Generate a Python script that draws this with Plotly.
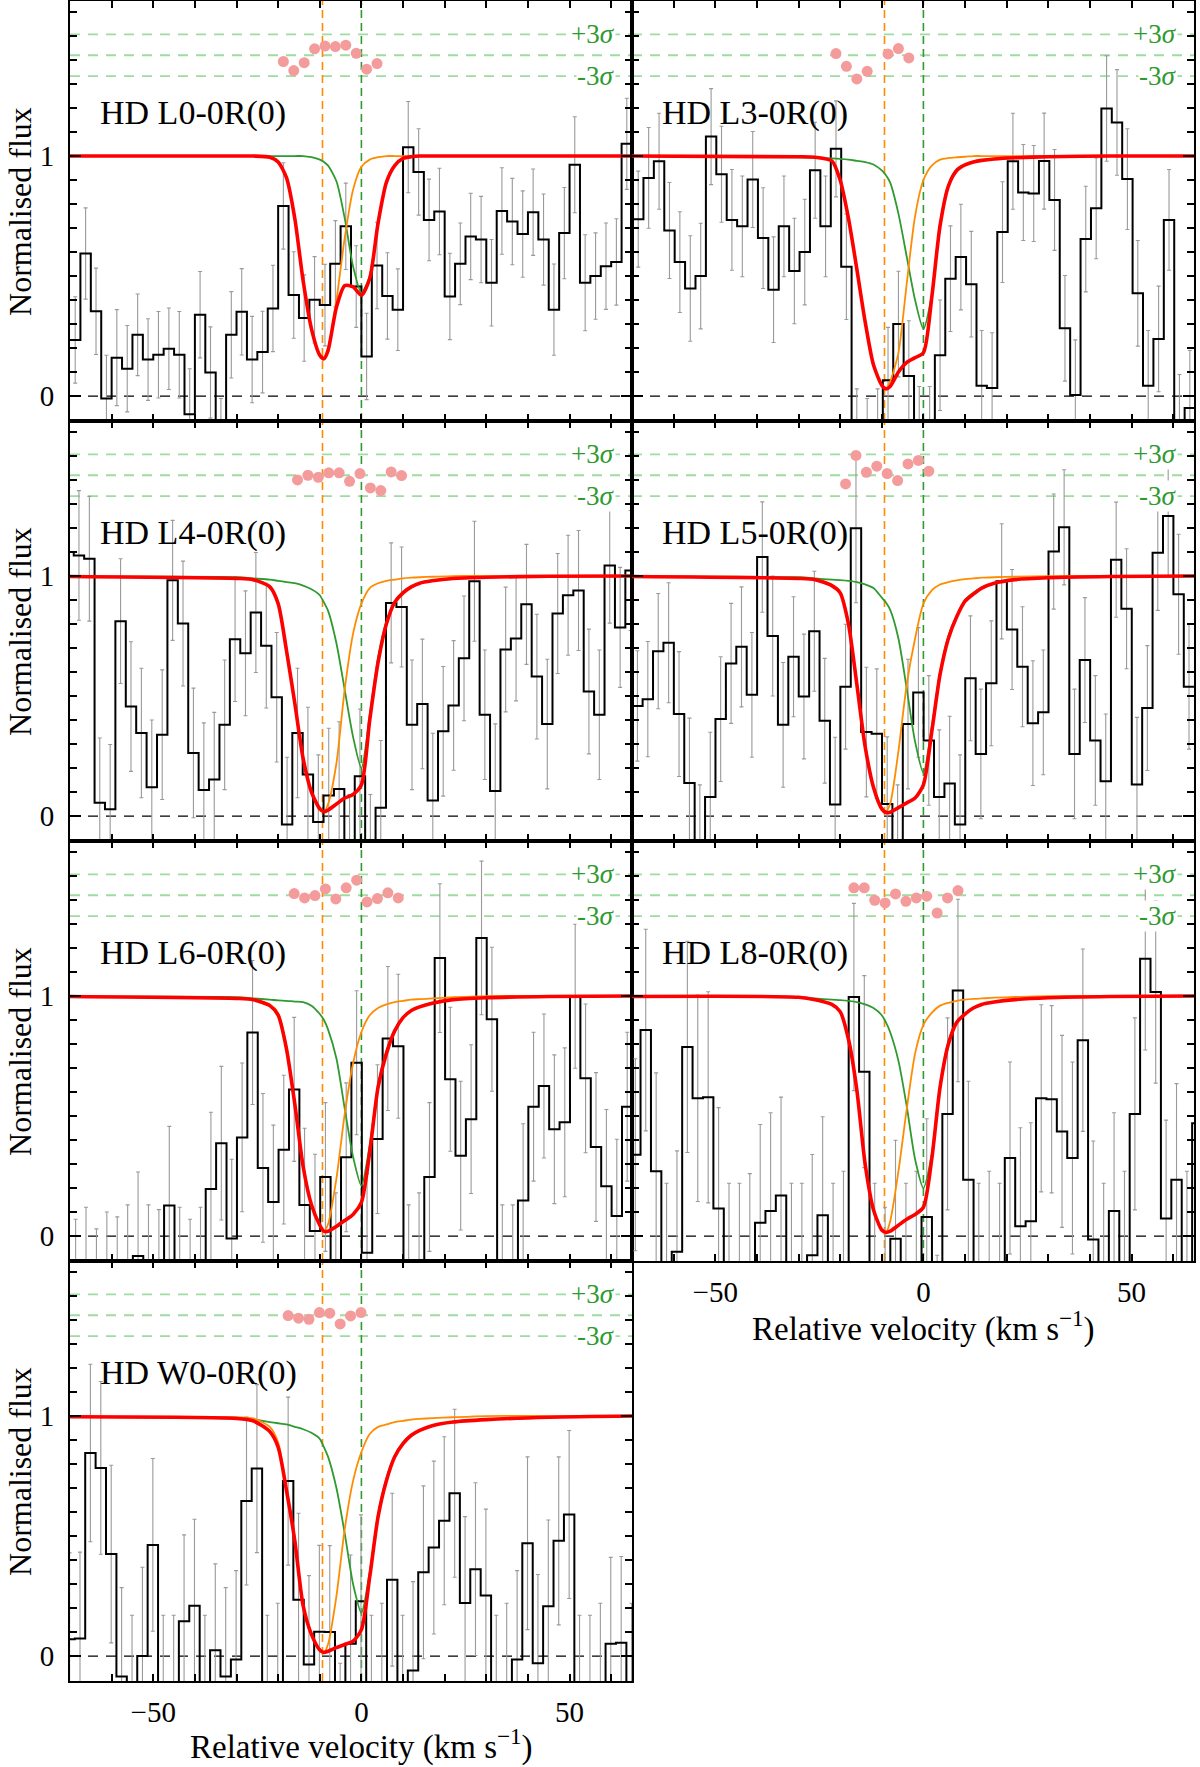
import plotly.graph_objects as go
from plotly.subplots import make_subplots

FONT = "Liberation Serif"
BIN = 2.5
XR = [-70, 65]
YR = [-0.104, 1.646]
V_ORANGE = -9.35
V_GREEN = 0.0
RES_CENTER = 1.42
RES_SIGMA = 0.029

LABELS = ["HD L0-0R(0)", "HD L3-0R(0)", "HD L4-0R(0)", "HD L5-0R(0)",
          "HD L6-0R(0)", "HD L8-0R(0)", "HD W0-0R(0)"]
POSITIONS = [(1, 1), (1, 2), (2, 1), (2, 2), (3, 1), (3, 2), (4, 1)]
V_START = [-68.75, -68.5, -70.35, -68.7, -68.65, -69.2, -70.1]

# ---------------- observed flux (bin values) ----------------
FLUX_L0 = [0.234, 0.594, 0.353, -0.01, 0.160, 0.114, 0.255, 0.152, 0.172, 0.197, 0.172, -0.076, 0.339, 0.098,
           -0.2, 0.255, 0.351, 0.152, 0.183, 0.365, 0.792, 0.421, 0.325, 0.401, 0.379, 0.551, 0.707, 0.456,
           0.165, 0.544, 0.417, 0.360, 1.037, 0.934, 0.734, 0.769, 0.415, 0.551, 0.665, 0.652, 0.472, 0.771,
           0.727, 0.675, 0.766, 0.652, 0.360, 0.679, 0.964, 0.472, 0.500, 0.541, 0.559, 1.051]
FLUX_L3 = [0.737, 0.909, 0.978, 0.69, 0.558, 0.448, 0.5, 1.081, 0.924, 0.734, 0.707, 0.902, 0.658, 0.443,
           0.707, 0.521, 0.6, 0.941, 0.707, 1.03, 0.539, -0.2, -0.25, -0.2, 0.066, 0.3, 0.084, -0.2, -0.2,
           0.17, 0.489, 0.579, 0.466, 0.043, 0.034, 0.683, 0.978, 0.848, 0.844, 0.979, 0.817, 0.282, 0.004,
           0.654, 0.782, 1.198, 1.14, 0.904, 0.428, 0.043, 0.238, 0.734, -0.15, -0.05]
FLUX_L4 = [1.10, 1.086, 1.072, 0.055, 0.028, 0.812, 0.456, 0.346, 0.12, 0.339, 0.982, 0.802, 0.263, 0.108,
           0.152, 0.38, 0.737, 0.678, 0.848, 0.71, 0.495, -0.035, 0.346, 0.173, -0.025, 0.086, 0.113, -0.2,
           0.166, -0.2, 0.035, 0.888, 0.871, 0.38, 0.467, 0.065, 0.353, 0.461, 0.657, 0.978, 0.422, 0.104,
           0.694, 0.74, 0.882, 0.581, 0.383, 0.844, 0.92, 0.94, 0.519, 0.422, 1.044, 0.786, 1.023]
FLUX_L5 = [0.459, 0.487, 0.687, 0.722, 0.425, 0.138, -0.15, 0.079, 0.404, 0.636, 0.705, 0.505, 1.079, 0.75,
           0.38, 0.664, 0.498, 0.77, 0.397, 0.048, 0.539, 1.199, 0.35, 0.343, 0.05, -0.15, 0.383, 0.515,
           0.315, 0.079, 0.136, -0.035, 0.574, 0.259, 0.553, 0.978, 0.777, 0.622, 0.387, 0.432, 1.102, 1.203,
           0.259, 0.65, 0.315, 0.145, 1.068, 0.864, 0.131, 0.45, 1.097, 1.25, 0.924, 0.539]
FLUX_L6 = [-0.25, -0.2, -0.3, -0.22, -0.25, -0.2, -0.083, -0.2, -0.22, 0.127, -0.2, -0.25, -0.2, 0.196,
           0.387, -0.01, 0.411, 0.848, 0.284, 0.142, 0.36, 0.611, 0.129, 0.021, 0.246, -0.15, 0.328, 0.722,
           -0.07, 0.404, 0.823, 0.791, -0.2, -0.15, 0.246, 1.158, 0.653, 0.335, 0.487, 1.242, 0.903, -0.2,
           -0.2, 0.148, 0.539, 0.625, 0.445, 0.474, 0.999, 0.657, 0.371, 0.207, 0.083, 0.539]
FLUX_L8 = [0.339, 0.858, 0.27, -0.2, -0.065, 0.788, 0.574, 0.578, 0.115, -0.2, -0.2, -0.15, 0.055, 0.104,
           0.169, -0.2, -0.2, -0.08, 0.087, -0.2, -0.15, 0.996, 0.685, -0.2, -0.3, -0.011, -0.2, -0.15, 0.079,
           -0.5, 0.509, 1.023, 0.235, -0.2, -0.15, -0.2, 0.325, 0.041, 0.062, 0.574, 0.57, 0.436, 0.325, 0.816,
           -0.014, -0.2, 0.104, -0.15, 0.509, 1.155, 1.017, 0.073, 0.235, -0.15, 0.47]
FLUX_W0 = [0.07, 0.073, 0.846, 0.784, 0.425, -0.085, -0.2, 0.0, 0.463, -0.2, -0.2, 0.145, 0.21, -0.2, 0.024,
           -0.085, -0.014, 0.646, 0.781, -0.2, -0.15, 0.729, 0.235, -0.035, 0.101, 0.1, -0.4, 0.051, 0.228,
           -0.2, -0.15, 0.318, -0.2, -0.06, 0.349, 0.452, 0.564, 0.678, 0.221, 0.362, 0.252, -0.2, -0.15,
           -0.014, 0.47, -0.03, 0.207, 0.48, 0.59, -0.2, -0.2, -0.15, 0.051, 0.055, -0.15]

# ---------------- flux errors ----------------
ERR_L0 = [0.18, 0.19, 0.18, 0.18, 0.20, 0.18, 0.17, 0.17, 0.18, 0.17, 0.18, 0.19, 0.18, 0.19, 0.19, 0.18, 0.18,
          0.18, 0.17, 0.18, 0.18, 0.18, 0.18, 0.18, 0.17, 0.18, 0.18, 0.17, 0.18, 0.18, 0.18, 0.17, 0.19, 0.18,
          0.17, 0.18, 0.18, 0.17, 0.18, 0.18, 0.18, 0.18, 0.18, 0.18, 0.18, 0.19, 0.19, 0.19, 0.20, 0.20, 0.18,
          0.18, 0.18, 0.19]
ERR_L3 = [0.20, 0.21, 0.20, 0.20, 0.21, 0.22, 0.22, 0.20, 0.20, 0.21, 0.21, 0.20, 0.21, 0.22, 0.21, 0.22, 0.22,
          0.20, 0.21, 0.20, 0.22, 0.23, 0.24, 0.23, 0.22, 0.22, 0.23, 0.24, 0.24, 0.23, 0.22, 0.22, 0.22, 0.23,
          0.23, 0.21, 0.20, 0.20, 0.20, 0.20, 0.21, 0.22, 0.23, 0.22, 0.21, 0.22, 0.22, 0.21, 0.22, 0.23, 0.22,
          0.21, 0.24, 0.24]
ERR_L4 = [0.27, 0.27, 0.26, 0.27, 0.27, 0.26, 0.27, 0.27, 0.28, 0.27, 0.25, 0.26, 0.27, 0.28, 0.28, 0.27, 0.26,
          0.26, 0.25, 0.26, 0.27, 0.28, 0.27, 0.28, 0.28, 0.28, 0.28, 0.29, 0.28, 0.29, 0.28, 0.25, 0.25, 0.27,
          0.27, 0.28, 0.27, 0.27, 0.26, 0.25, 0.27, 0.28, 0.26, 0.26, 0.25, 0.26, 0.27, 0.25, 0.25, 0.25, 0.26,
          0.27, 0.24, 0.25, 0.25]
ERR_L5 = [0.23, 0.24, 0.24, 0.25, 0.26, 0.27, 0.28, 0.27, 0.26, 0.25, 0.25, 0.26, 0.23, 0.25, 0.26, 0.25, 0.26,
          0.25, 0.26, 0.28, 0.26, 0.31, 0.27, 0.27, 0.28, 0.28, 0.27, 0.27, 0.27, 0.28, 0.28, 0.29, 0.26, 0.27,
          0.26, 0.24, 0.25, 0.25, 0.26, 0.26, 0.24, 0.24, 0.27, 0.26, 0.27, 0.28, 0.24, 0.25, 0.28, 0.26, 0.24,
          0.25, 0.25, 0.26]
ERR_L6 = [0.32, 0.32, 0.33, 0.32, 0.33, 0.33, 0.35, 0.33, 0.33, 0.33, 0.32, 0.32, 0.32, 0.32, 0.32, 0.33, 0.31,
          0.30, 0.31, 0.32, 0.31, 0.30, 0.32, 0.32, 0.31, 0.33, 0.31, 0.30, 0.33, 0.31, 0.30, 0.30, 0.33, 0.33,
          0.31, 0.31, 0.30, 0.31, 0.31, 0.32, 0.30, 0.33, 0.33, 0.32, 0.31, 0.30, 0.31, 0.31, 0.30, 0.31, 0.31,
          0.32, 0.32, 0.31]
ERR_L8 = [0.40, 0.42, 0.41, 0.42, 0.42, 0.44, 0.43, 0.44, 0.42, 0.42, 0.42, 0.41, 0.41, 0.41, 0.41, 0.42, 0.42,
          0.42, 0.41, 0.42, 0.42, 0.39, 0.40, 0.42, 0.42, 0.41, 0.42, 0.42, 0.41, 0.42, 0.40, 0.38, 0.41, 0.42,
          0.42, 0.42, 0.40, 0.41, 0.41, 0.39, 0.39, 0.40, 0.40, 0.38, 0.41, 0.42, 0.41, 0.42, 0.40, 0.38, 0.38,
          0.41, 0.40, 0.42, 0.40]
ERR_W0 = [0.36, 0.36, 0.37, 0.36, 0.37, 0.37, 0.37, 0.37, 0.36, 0.37, 0.37, 0.36, 0.36, 0.37, 0.36, 0.37, 0.37,
          0.35, 0.35, 0.37, 0.37, 0.35, 0.36, 0.37, 0.36, 0.36, 0.37, 0.37, 0.36, 0.37, 0.37, 0.36, 0.37, 0.37,
          0.36, 0.36, 0.35, 0.35, 0.36, 0.36, 0.36, 0.37, 0.37, 0.37, 0.36, 0.37, 0.36, 0.35, 0.35, 0.37, 0.37,
          0.37, 0.36, 0.36, 0.37]

# ---------------- model profiles, sampled at V_MODEL ----------------
V_MODEL = [-70, -30, -26, -22, -20, -18, -16, -14, -12, -10, -9, -8, -6, -4, -2, 0, 2, 4, 6, 8, 10, 12, 14, 17,
           22, 30, 45, 65]

RED_L0 = [1, 1, 1, 0.995, 0.975, 0.91, 0.74, 0.48, 0.28, 0.17, 0.155, 0.19, 0.37, 0.46, 0.455, 0.42, 0.49, 0.72,
          0.89, 0.96, 0.99, 0.997, 1, 1, 1, 1, 1, 1]
GRN_L0 = [1, 1, 1, 1, 1, 1, 1, 1, 0.995, 0.985, 0.975, 0.96, 0.895, 0.74, 0.54, 0.43, 0.50, 0.73, 0.89, 0.96,
          0.99, 0.997, 1, 1, 1, 1, 1, 1]
ORG_L0 = [1, 1, 1, 0.995, 0.975, 0.91, 0.74, 0.48, 0.28, 0.17, 0.16, 0.20, 0.40, 0.66, 0.86, 0.955, 0.985, 0.995,
          1, 1, 1, 1, 1, 1, 1, 1, 1, 1]

RED_L3 = [1, 0.997, 0.995, 0.98, 0.90, 0.74, 0.53, 0.31, 0.13, 0.045, 0.03, 0.04, 0.10, 0.14, 0.16, 0.18, 0.41,
          0.71, 0.875, 0.94, 0.963, 0.975, 0.982, 0.988, 0.993, 0.997, 1, 1]
GRN_L3 = [1, 0.995, 0.993, 0.99, 0.988, 0.985, 0.98, 0.975, 0.965, 0.94, 0.92, 0.89, 0.76, 0.58, 0.40, 0.28,
          0.42, 0.72, 0.88, 0.945, 0.965, 0.976, 0.983, 0.989, 0.994, 0.997, 1, 1]
ORG_L3 = [1, 0.997, 0.995, 0.98, 0.90, 0.74, 0.53, 0.31, 0.13, 0.045, 0.03, 0.06, 0.18, 0.47, 0.75, 0.90, 0.96,
          0.985, 0.992, 0.995, 0.997, 1, 1, 1, 1, 1, 1, 1]

RED_L4 = [0.998, 0.99, 0.985, 0.955, 0.885, 0.69, 0.47, 0.24, 0.10, 0.03, 0.018, 0.025, 0.05, 0.075, 0.09, 0.13,
          0.40, 0.64, 0.80, 0.89, 0.93, 0.955, 0.97, 0.98, 0.99, 0.995, 0.999, 1]
GRN_L4 = [0.998, 0.995, 0.99, 0.985, 0.98, 0.975, 0.97, 0.96, 0.945, 0.92, 0.89, 0.855, 0.72, 0.525, 0.33, 0.20,
          0.42, 0.66, 0.81, 0.895, 0.935, 0.958, 0.972, 0.982, 0.99, 0.995, 0.999, 1]
ORG_L4 = [0.998, 0.99, 0.985, 0.96, 0.89, 0.70, 0.48, 0.245, 0.103, 0.03, 0.018, 0.05, 0.22, 0.53, 0.76, 0.885,
          0.95, 0.97, 0.98, 0.985, 0.99, 0.993, 0.995, 0.997, 1, 1, 1, 1]

RED_L5 = [0.998, 0.99, 0.985, 0.96, 0.93, 0.80, 0.55, 0.29, 0.12, 0.03, 0.015, 0.016, 0.035, 0.055, 0.075, 0.13,
          0.35, 0.59, 0.74, 0.83, 0.895, 0.925, 0.95, 0.97, 0.985, 0.993, 0.998, 1]
GRN_L5 = [0.998, 0.995, 0.99, 0.985, 0.983, 0.98, 0.975, 0.965, 0.95, 0.91, 0.89, 0.86, 0.74, 0.53, 0.31, 0.18,
          0.37, 0.60, 0.75, 0.835, 0.90, 0.93, 0.952, 0.971, 0.986, 0.994, 0.998, 1]
ORG_L5 = [0.998, 0.99, 0.985, 0.965, 0.935, 0.81, 0.56, 0.30, 0.125, 0.035, 0.02, 0.05, 0.27, 0.55, 0.74, 0.885,
          0.94, 0.965, 0.975, 0.982, 0.987, 0.99, 0.993, 0.995, 0.997, 1, 1, 1]

RED_L6 = [0.998, 0.99, 0.985, 0.96, 0.92, 0.78, 0.55, 0.29, 0.13, 0.045, 0.02, 0.02, 0.04, 0.065, 0.09, 0.14,
          0.35, 0.62, 0.76, 0.855, 0.91, 0.94, 0.955, 0.97, 0.985, 0.993, 0.998, 1]
GRN_L6 = [0.998, 0.995, 0.99, 0.985, 0.982, 0.98, 0.977, 0.975, 0.96, 0.925, 0.90, 0.86, 0.74, 0.53, 0.33, 0.21,
          0.38, 0.63, 0.77, 0.86, 0.912, 0.942, 0.957, 0.971, 0.986, 0.994, 0.998, 1]
ORG_L6 = [0.998, 0.99, 0.985, 0.965, 0.93, 0.79, 0.56, 0.30, 0.135, 0.05, 0.02, 0.05, 0.24, 0.51, 0.72, 0.85,
          0.92, 0.95, 0.965, 0.975, 0.98, 0.985, 0.987, 0.99, 0.995, 1, 1, 1]

RED_L8 = [0.998, 0.995, 0.985, 0.965, 0.935, 0.82, 0.61, 0.30, 0.11, 0.025, 0.015, 0.02, 0.045, 0.07, 0.09, 0.12,
          0.32, 0.62, 0.80, 0.89, 0.925, 0.95, 0.965, 0.975, 0.985, 0.993, 0.998, 1]
GRN_L8 = [0.998, 0.995, 0.99, 0.985, 0.983, 0.98, 0.975, 0.965, 0.95, 0.92, 0.89, 0.85, 0.73, 0.54, 0.32, 0.20,
          0.34, 0.63, 0.81, 0.895, 0.928, 0.952, 0.966, 0.976, 0.986, 0.994, 0.998, 1]
ORG_L8 = [0.998, 0.995, 0.985, 0.965, 0.935, 0.82, 0.61, 0.30, 0.11, 0.025, 0.015, 0.06, 0.27, 0.53, 0.76, 0.88,
          0.93, 0.96, 0.972, 0.98, 0.985, 0.988, 0.99, 0.993, 0.996, 1, 1, 1]

RED_W0 = [0.997, 0.99, 0.98, 0.935, 0.87, 0.69, 0.48, 0.21, 0.09, 0.025, 0.015, 0.02, 0.035, 0.048, 0.062, 0.11,
          0.33, 0.58, 0.73, 0.83, 0.885, 0.92, 0.94, 0.96, 0.975, 0.985, 0.995, 1]
GRN_W0 = [0.997, 0.99, 0.985, 0.975, 0.97, 0.965, 0.955, 0.945, 0.93, 0.905, 0.87, 0.83, 0.70, 0.51, 0.30, 0.18,
          0.35, 0.59, 0.74, 0.835, 0.89, 0.923, 0.942, 0.961, 0.976, 0.986, 0.995, 1]
ORG_W0 = [0.999, 0.995, 0.99, 0.955, 0.89, 0.70, 0.49, 0.215, 0.095, 0.028, 0.015, 0.05, 0.25, 0.53, 0.73, 0.85,
          0.925, 0.955, 0.965, 0.975, 0.98, 0.985, 0.988, 0.991, 0.995, 1, 1, 1]

# ---------------- residuals (in units of sigma) ----------------
RES_V_L0 = [-18.75, -16.25, -13.75, -11.25, -8.75, -6.25, -3.75, -1.25, 1.25, 3.75]
RES_L0 = [-0.9, -2.2, -1.07, 0.93, 1.31, 1.24, 1.45, 0.28, -2.0, -1.2]
RES_V_L3 = [-21.0, -18.5, -16.0, -13.5, -8.5, -6.0, -3.5]
RES_L3 = [0.24, -1.59, -3.41, -2.31, 0.19, 0.96, -0.38]
RES_V_L4 = [-15.35, -12.85, -10.35, -7.85, -5.35, -2.85, -0.35, 2.15, 4.65, 7.15, 9.65]
RES_L4 = [-0.67, 0.0, -0.29, 0.34, 0.34, -0.87, 0.24, -1.83, -2.21, 0.48, -0.05]
RES_V_L5 = [-18.7, -16.2, -13.7, -11.2, -8.7, -6.2, -3.7, -1.2, 1.3]
RES_L5 = [-1.25, 2.84, 0.43, 1.3, 0.24, -0.77, 1.63, 2.12, 0.58]
RES_V_L6 = [-16.15, -13.65, -11.15, -8.65, -6.15, -3.65, -1.15, 1.35, 3.85, 6.35, 8.85]
RES_L6 = [0.24, -0.38, -0.05, 0.91, -0.53, 1.06, 2.16, -0.96, -0.48, 0.34, -0.38]
RES_V_L8 = [-16.7, -14.2, -11.7, -9.2, -6.7, -4.2, -1.7, 0.8, 3.3, 5.8, 8.3]
RES_L8 = [1.06, 1.06, -0.72, -1.1, 0.19, -0.87, -0.38, -0.14, -2.55, -0.38, 0.67]
RES_V_W0 = [-17.6, -15.1, -12.6, -10.1, -7.6, -5.1, -2.6, -0.1]
RES_W0 = [-0.05, -0.43, -0.58, 0.38, 0.29, -1.25, -0.1, 0.38]

FLUX = [FLUX_L0, FLUX_L3, FLUX_L4, FLUX_L5, FLUX_L6, FLUX_L8, FLUX_W0]
ERR = [ERR_L0, ERR_L3, ERR_L4, ERR_L5, ERR_L6, ERR_L8, ERR_W0]
RED = [RED_L0, RED_L3, RED_L4, RED_L5, RED_L6, RED_L8, RED_W0]
GRN = [GRN_L0, GRN_L3, GRN_L4, GRN_L5, GRN_L6, GRN_L8, GRN_W0]
ORG = [ORG_L0, ORG_L3, ORG_L4, ORG_L5, ORG_L6, ORG_L8, ORG_W0]
RES_V = [RES_V_L0, RES_V_L3, RES_V_L4, RES_V_L5, RES_V_L6, RES_V_L8, RES_V_W0]
RES = [RES_L0, RES_L3, RES_L4, RES_L5, RES_L6, RES_L8, RES_W0]

X_MAJOR = [-50, 0, 50]
X_MAJOR_TEXT = ["\u221250", "0", "50"]
Y_MAJOR = [0, 1]
Y_MAJOR_TEXT = ["0", "1"]

C_GREEN = "#2f9a2f"
C_ORANGE = "#ff8c00"
C_RED = "#ff0000"
C_RESLINE = "#9fdc9f"
C_DOT = "#f49c9c"
C_ERR = "#9a9a9a"

fig = make_subplots(rows=4, cols=2, horizontal_spacing=0, vertical_spacing=0)

for i, (lab, (r, c)) in enumerate(zip(LABELS, POSITIONS)):
    n = i + 1
    ax = "" if n == 1 else str(n)
    xs = [V_START[i] + BIN * k for k in range(len(FLUX[i]))]
    # error bars
    fig.add_trace(go.Scatter(x=xs, y=FLUX[i], mode="markers",
                             marker=dict(size=1, color="rgba(0,0,0,0)"),
                             error_y=dict(type="data", array=ERR[i], color=C_ERR, thickness=1.1, width=2),
                             showlegend=False, hoverinfo="skip"), row=r, col=c)
    # step histogram
    xe = [xs[0] - BIN / 2] + xs + [xs[-1] + BIN / 2]
    ye = [FLUX[i][0]] + FLUX[i] + [FLUX[i][-1]]
    fig.add_trace(go.Scatter(x=xe, y=ye, mode="lines", line=dict(color="black", width=2, shape="hvh"),
                             showlegend=False, hoverinfo="skip"), row=r, col=c)
    # model components
    fig.add_trace(go.Scatter(x=V_MODEL, y=GRN[i], mode="lines",
                             line=dict(color=C_GREEN, width=1.8, shape="spline", smoothing=0.7),
                             showlegend=False), row=r, col=c)
    fig.add_trace(go.Scatter(x=V_MODEL, y=ORG[i], mode="lines",
                             line=dict(color=C_ORANGE, width=1.8, shape="spline", smoothing=0.7),
                             showlegend=False), row=r, col=c)
    fig.add_trace(go.Scatter(x=V_MODEL, y=RED[i], mode="lines",
                             line=dict(color=C_RED, width=3.6, shape="spline", smoothing=0.7),
                             showlegend=False), row=r, col=c)
    # residuals
    fig.add_trace(go.Scatter(x=RES_V[i], y=[RES_CENTER + v * RES_SIGMA for v in RES[i]], mode="markers",
                             marker=dict(size=11, color=C_DOT), showlegend=False), row=r, col=c)

    xref, yref = "x" + ax, "y" + ax
    # zero line
    fig.add_shape(type="line", xref=xref + " domain", yref=yref, x0=0, x1=1, y0=0, y1=0,
                  line=dict(color="black", width=1.3, dash="10px,8px"), layer="below")
    # residual guide lines
    for k in (-3, 0, 3):
        fig.add_shape(type="line", xref=xref + " domain", yref=yref, x0=0, x1=1,
                      y0=RES_CENTER + k * RES_SIGMA, y1=RES_CENTER + k * RES_SIGMA,
                      line=dict(color=C_RESLINE, width=1.8, dash="10px,8px"), layer="below")
    # component velocities
    fig.add_shape(type="line", xref=xref, yref=yref + " domain", x0=V_ORANGE, x1=V_ORANGE, y0=0, y1=1,
                  line=dict(color=C_ORANGE, width=1.6, dash="8px,5px"), layer="below")
    fig.add_shape(type="line", xref=xref, yref=yref + " domain", x0=V_GREEN, x1=V_GREEN, y0=0, y1=1,
                  line=dict(color=C_GREEN, width=1.6, dash="8px,5px"), layer="below")
    # texts
    fig.add_annotation(xref=xref, yref=yref, x=-63.2, y=1.18, text=lab, showarrow=False,
                       xanchor="left", yanchor="middle", font=dict(family=FONT, size=34, color="black"))
    fig.add_annotation(xref=xref, yref=yref, x=61.2, y=RES_CENTER + 3 * RES_SIGMA, text="+3<i>\u03c3</i>",
                       showarrow=False, xanchor="right", yanchor="middle", bgcolor="white", borderpad=0,
                       font=dict(family=FONT, size=27, color=C_GREEN))
    fig.add_annotation(xref=xref, yref=yref, x=61.2, y=RES_CENTER - 3 * RES_SIGMA, text="-3<i>\u03c3</i>",
                       showarrow=False, xanchor="right", yanchor="middle", bgcolor="white", borderpad=0,
                       font=dict(family=FONT, size=27, color=C_GREEN))

    show_x = (r, c) in [(4, 1), (3, 2)]
    show_y = c == 1
    fig.update_xaxes(row=r, col=c, range=XR, tickvals=X_MAJOR, ticktext=X_MAJOR_TEXT, ticks="inside",
                     ticklen=7, tickwidth=1.5, tickcolor="black", showline=True, linewidth=2, linecolor="black",
                     mirror="allticks", showgrid=False, zeroline=False, showticklabels=show_x, automargin=False,
                     tickfont=dict(family=FONT, size=29, color="black"), ticklabelstandoff=4,
                     minor=dict(dtick=10, tick0=0, ticks="inside", ticklen=7, tickwidth=1.5, tickcolor="black",
                                showgrid=False))
    fig.update_yaxes(row=r, col=c, range=YR, tickvals=Y_MAJOR, ticktext=Y_MAJOR_TEXT, ticks="inside",
                     ticklen=11, tickwidth=1.5, tickcolor="black", showline=True, linewidth=2, linecolor="black",
                     mirror="allticks", showgrid=False, zeroline=False, showticklabels=show_y, automargin=False,
                     tickfont=dict(family=FONT, size=29, color="black"), ticklabelstandoff=8,
                     minor=dict(dtick=0.1, tick0=0, ticks="inside", ticklen=7, tickwidth=1.5, tickcolor="black",
                                showgrid=False))

fig.update_xaxes(row=4, col=2, visible=False, automargin=False)
fig.update_yaxes(row=4, col=2, visible=False, automargin=False)

# axis titles
for r in range(1, 5):
    fig.add_annotation(xref="paper", yref="paper", x=-0.0445, y=1 - (r - 0.5) / 4, text="Normalised flux",
                       textangle=-90, showarrow=False, xanchor="center", yanchor="middle",
                       font=dict(family=FONT, size=32, color="black"))
fig.add_annotation(xref="x7", yref="paper", x=0, y=-0.0375, text="Relative velocity (km s<sup>\u22121</sup>)",
                   showarrow=False, xanchor="center", yanchor="middle", font=dict(family=FONT, size=33, color="black"))
fig.add_annotation(xref="x6", yref="paper", x=0, y=0.211, text="Relative velocity (km s<sup>\u22121</sup>)",
                   showarrow=False, xanchor="center", yanchor="middle", font=dict(family=FONT, size=33, color="black"))

fig.update_layout(width=1200, height=1767, margin=dict(l=70, r=6, t=1, b=86, autoexpand=False),
                  plot_bgcolor="white", paper_bgcolor="white", showlegend=False,
                  font=dict(family=FONT, color="black"))

fig.write_html("out.html", config={"displayModeBar": False},
               post_script="document.body.style.margin='0px';")
